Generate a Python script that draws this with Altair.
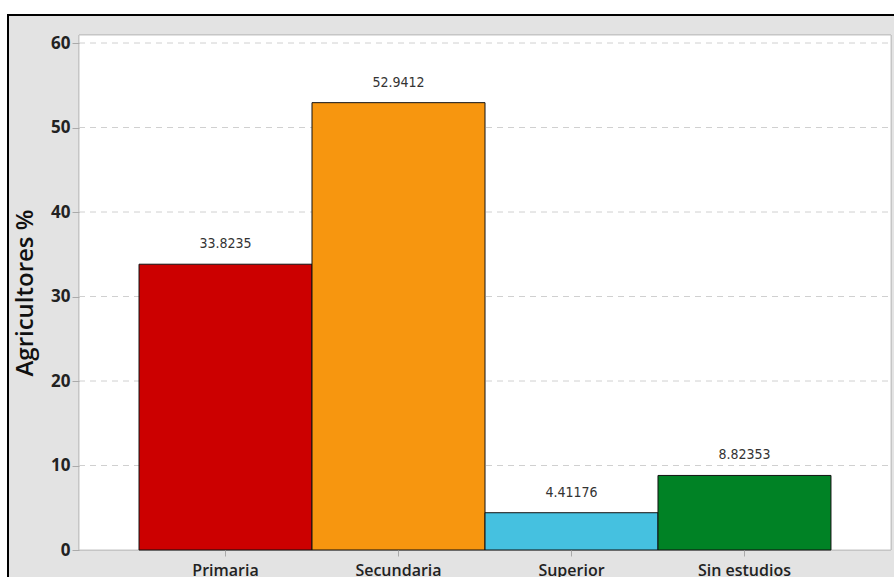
import altair as alt
import pandas as pd

categories = ["Primaria", "Secundaria", "Superior", "Sin estudios"]
values = [33.8235, 52.9412, 4.41176, 8.82353]
labels = ["33.8235", "52.9412", "4.41176", "8.82353"]
colors = ["#cc0000", "#f7960f", "#45c1e0", "#008225"]
grid_values = [10, 20, 30, 40, 50, 60]

W, H = 812, 515

df = pd.DataFrame({"cat": categories, "val": values, "lab": labels})
gdf = pd.DataFrame({"g": grid_values})

x_enc = alt.X("cat:N", sort=categories,
              scale=alt.Scale(paddingInner=0, paddingOuter=0.347),
              axis=alt.Axis(title=None, labelAngle=0, labelFontSize=16,
                            labelFontWeight=600,
                            labelColor="#222222", labelFont="Open Sans",
                            labelPadding=6, tickColor="#aaaaaa", tickSize=6,
                            domain=False, zindex=1))
y_scale = alt.Scale(domain=[0, 60.95], nice=False)
y_axis = alt.Axis(title="Agricultores %", titleFontSize=24, titleFont="Open Sans",
                  titleFontWeight=600, titleColor="#111111", titlePadding=13,
                  values=[0, 10, 20, 30, 40, 50, 60], labelFontSize=17,
                  labelFontWeight="bold", labelFont="Open Sans", labelColor="#222222",
                  tickColor="#aaaaaa", tickSize=7, labelPadding=2, grid=False,
                  domain=False, zindex=1)

frame = alt.Chart(df).mark_rect(fill="#e3e3e3", stroke="#000000", strokeWidth=2).encode(
    x=alt.value(-71), x2=alt.value(W + 40), y=alt.value(-20), y2=alt.value(H + 60))

plot_bg = alt.Chart(df).mark_rect(fill="#ffffff", stroke="#c4c4c4", strokeWidth=1).encode(
    x=alt.value(0), x2=alt.value(W), y=alt.value(0), y2=alt.value(H))

grid = alt.Chart(gdf).mark_rule(color="#d0d0d0", strokeDash=[6, 5], strokeWidth=1).encode(
    y=alt.Y("g:Q", scale=y_scale, axis=y_axis),
    x=alt.value(0), x2=alt.value(W))

bars = alt.Chart(df).mark_bar(stroke="#111111", strokeWidth=1).encode(
    x=x_enc,
    y=alt.Y("val:Q", scale=y_scale, axis=y_axis),
    color=alt.Color("cat:N", scale=alt.Scale(domain=categories, range=colors), legend=None))

text = alt.Chart(df).mark_text(dy=-20, fontSize=14, font="DejaVu Sans Condensed",
                               color="#333333", baseline="middle").encode(
    x=alt.X("cat:N", sort=categories),
    y=alt.Y("val:Q", scale=y_scale),
    text="lab:N")

chart = alt.layer(frame, plot_bg, grid, bars, text).properties(
    width=W, height=H,
    autosize=alt.AutoSizeParams(type="none"),
    padding={"left": 79, "top": 35, "right": 3, "bottom": 27},
    background="#ffffff",
).configure_view(stroke=None)

chart.save("out.html", embed_options={"renderer": "svg", "actions": False})
